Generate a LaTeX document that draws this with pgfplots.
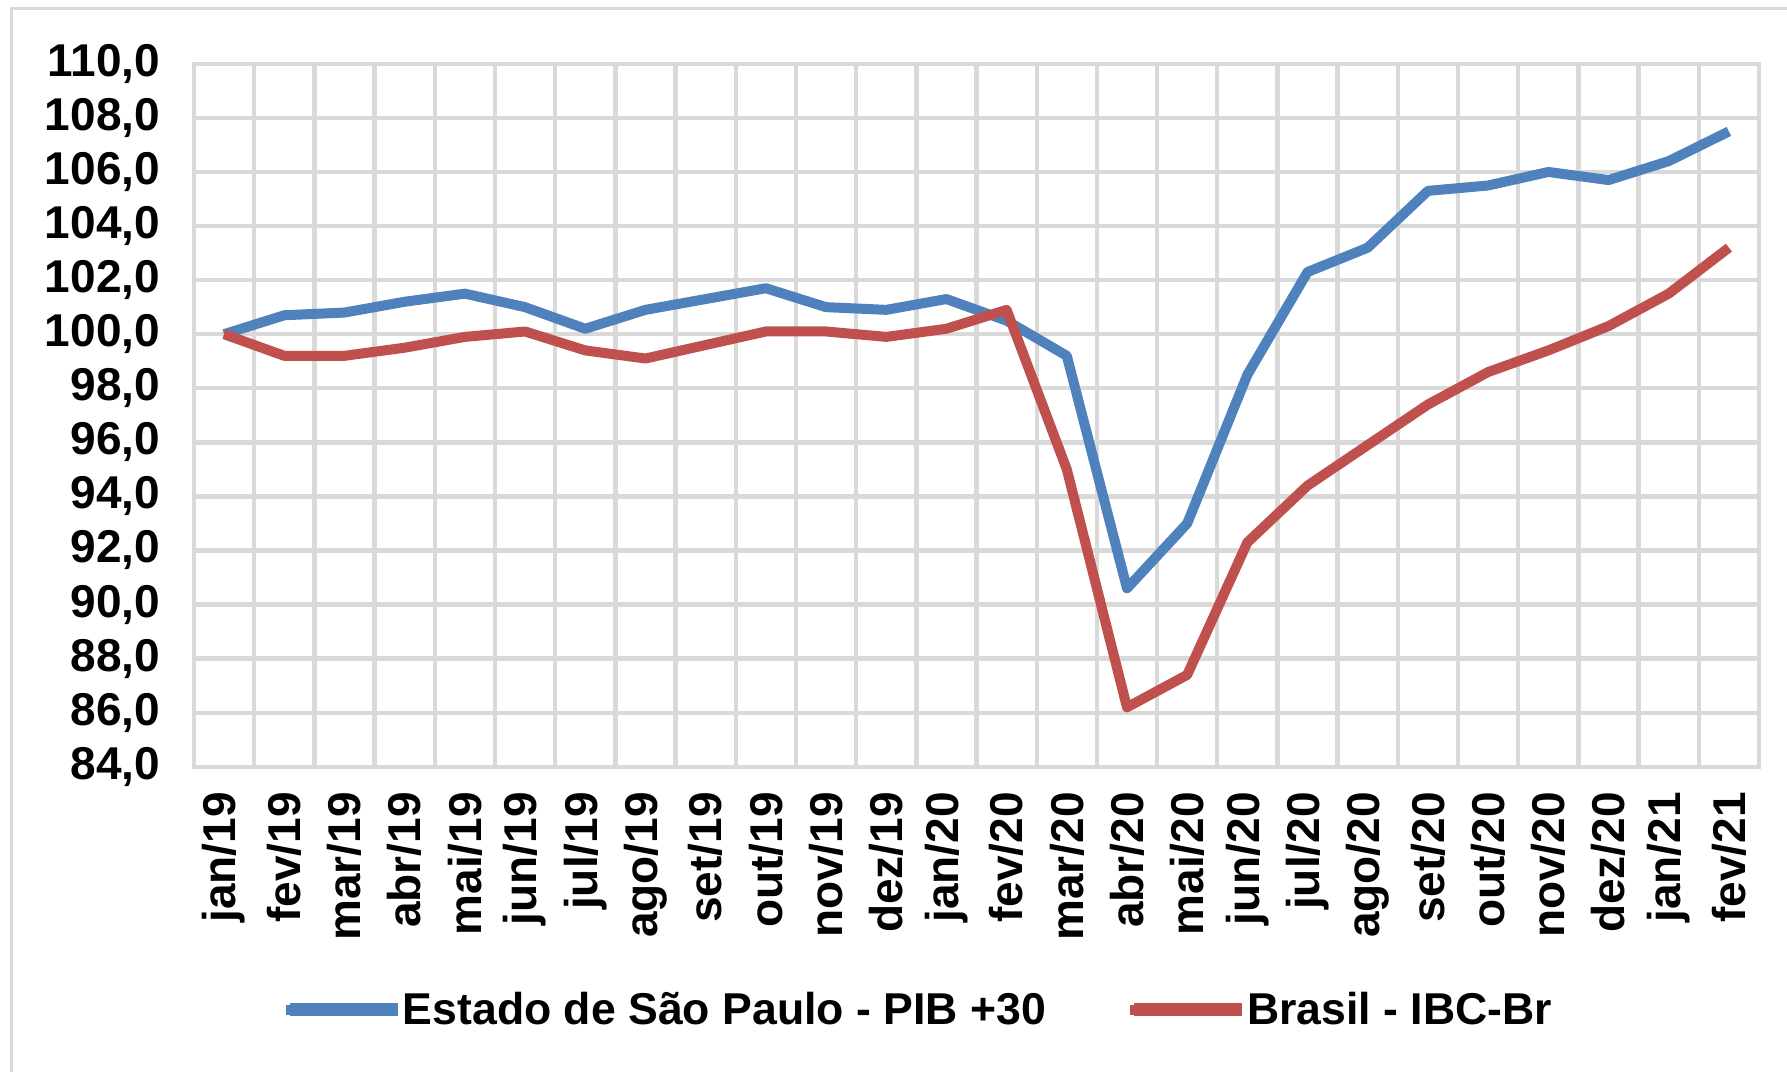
\documentclass[border=0pt]{standalone}
\usepackage{pgfplots}
\pgfplotsset{compat=1.18}
\usepackage{fontspec}
\setmainfont{Liberation Sans}
\definecolor{spblue}{HTML}{4F81BD}
\definecolor{brred}{HTML}{C0504D}
\definecolor{gridgray}{HTML}{D9D9D9}
\begin{document}
\begin{tikzpicture}
\useasboundingbox (0,0) rectangle (893.5pt,536pt);
\draw[gridgray, line width=1.5pt] (5.5pt,0) -- (5.5pt,531.5pt) -- (893.5pt,531.5pt);
\begin{axis}[
  at={(97pt,152.6pt)}, anchor=south west,
  scale only axis, width=782.5pt, height=351.5pt,
  xmin=-0.5, xmax=25.5, ymin=84, ymax=110,
  xtick={0,...,25},
  xticklabels={jan/19,fev/19,mar/19,abr/19,mai/19,jun/19,jul/19,ago/19,set/19,out/19,nov/19,dez/19,jan/20,fev/20,mar/20,abr/20,mai/20,jun/20,jul/20,ago/20,set/20,out/20,nov/20,dez/20,jan/21,fev/21},
  minor xtick={-0.5,0.5,...,25.5},
  ytick={84,86,...,110},
  xminorgrids, ymajorgrids,
  major tick length=0pt, minor tick length=0pt,
  grid style={gridgray, line width=2.2pt},
  minor grid style={gridgray, line width=2.2pt},
  axis line style={gridgray, line width=2.2pt},
  tick style={draw=none},
  ticklabel style={font=\fontsize{23}{27}\selectfont\bfseries},
  yticklabel style={anchor=east, inner xsep=0pt, inner ysep=0pt, xshift=-16.8pt,
    /pgf/number format/.cd, fixed, fixed zerofill, precision=1, use comma, assume math mode=true},
  xticklabel style={rotate=90, anchor=east, inner xsep=12.5pt, inner ysep=0pt},
  legend style={at={(0.0553,-0.3457)}, anchor=west, draw=none, fill=none, inner sep=0pt,
    font=\fontsize{22.3}{26}\selectfont\bfseries,
    /tikz/every even column/.append style={column sep=37.5pt}},
  legend columns=2,
  legend cell align=left,
  legend image code/.code={\path (0pt,0pt) -- (54pt,0pt);\draw[#1, overlay, line width=6.5pt, line cap=butt] (2pt,0pt) -- (56pt,0pt);},
]
\addplot[spblue, line width=5pt, line join=round] coordinates {
(0,100.0) (1,100.7) (2,100.8) (3,101.2) (4,101.5) (5,101.0) (6,100.2) (7,100.9)
(8,101.3) (9,101.7) (10,101.0) (11,100.9) (12,101.3) (13,100.5) (14,99.2) (15,90.6)
(16,93.0) (17,98.5) (18,102.3) (19,103.2) (20,105.3) (21,105.5) (22,106.0) (23,105.7)
(24,106.4) (25,107.5)};
\addlegendentry{Estado de São Paulo - PIB +30}
\addplot[brred, line width=5pt, line join=round] coordinates {
(0,100.0) (1,99.2) (2,99.2) (3,99.5) (4,99.9) (5,100.1) (6,99.4) (7,99.1)
(8,99.6) (9,100.1) (10,100.1) (11,99.9) (12,100.2) (13,100.9) (14,95.0) (15,86.2)
(16,87.4) (17,92.3) (18,94.4) (19,95.9) (20,97.4) (21,98.6) (22,99.4) (23,100.3)
(24,101.5) (25,103.2)};
\addlegendentry{Brasil - IBC-Br}
\end{axis}
\end{tikzpicture}
\end{document}
